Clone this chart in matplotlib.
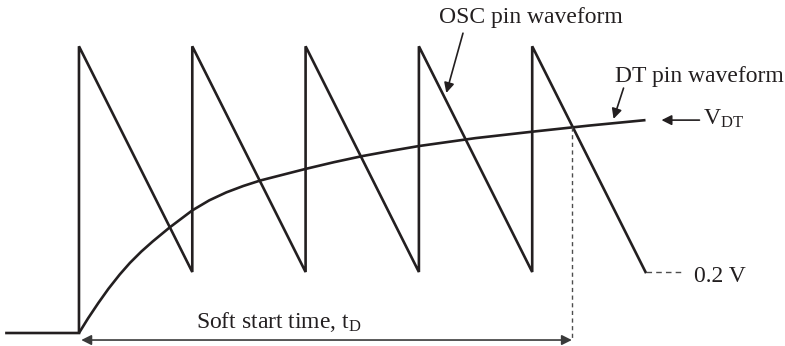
import numpy as np
import matplotlib
matplotlib.use('Agg')
import matplotlib.pyplot as plt

plt.rcParams['font.family'] = ['Liberation Serif', 'DejaVu Serif']
plt.rcParams['mathtext.fontset'] = 'custom'
plt.rcParams['mathtext.rm'] = 'Liberation Serif'
plt.rcParams['mathtext.it'] = 'Liberation Serif'

# time in oscillator periods, voltage in volts
osc_t = [-0.64, 0, 0, 1, 1, 2, 2, 3, 3, 4, 4, 5]
osc_v = [0, 0, 0.94, 0.2, 0.94, 0.2, 0.94, 0.2, 0.94, 0.2, 0.94, 0.2]

dt_t = [0, 0.08, 0.17, 0.26, 0.36, 0.45, 0.55, 0.65, 0.8, 1.0, 1.15, 1.3,
        1.45, 1.6, 1.8, 2.0, 2.25, 2.5, 2.75, 3.0, 3.5, 4.0, 4.5, 5.0]
dt_v = [0, 0.048, 0.098, 0.145, 0.192, 0.230, 0.267, 0.300, 0.346, 0.402,
        0.435, 0.461, 0.482, 0.500, 0.519, 0.538, 0.560, 0.580, 0.597, 0.613,
        0.639, 0.660, 0.680, 0.698]

t_d = 4.35        # end of soft start
v_low = 0.2
v_dt = dt_v[-1]

ink = '#231f20'
grey = '#4d4d4d'

fig = plt.figure(figsize=(7.85, 3.46), dpi=100)
ax = fig.add_axes([0, 0, 1, 1])
ax.set_xlim(-0.697, 6.231)
ax.set_ylim(-0.0426, 1.0918)
ax.axis('off')

ax.plot(osc_t, osc_v, color=ink, lw=1.9, solid_joinstyle='miter')
ax.plot(dt_t, dt_v, color=ink, lw=1.9, solid_capstyle='butt', solid_joinstyle='round')

# dashed markers
ax.plot([5, 5.33], [v_low, v_low], color=grey, lw=1, ls=(0, (4, 3)))
ax.plot([t_d, t_d], [np.interp(t_d, dt_t, dt_v), -0.023], color=grey, lw=1, ls=(0, (3, 2.5)))

# soft start arrow
ax.annotate('', xy=(0.02, -0.023), xytext=(t_d, -0.023),
            arrowprops=dict(arrowstyle='<|-|>', color='#3a3a3a', lw=1.2,
                            mutation_scale=15, shrinkA=0, shrinkB=0))
ax.text(1.768, 0.0164, 'Soft start time, t$_{\\rm D}$', fontsize=17,
        ha='center', va='baseline', color=ink)

# labels with pointers
ax.text(3.987, 1.015, 'OSC pin waveform', fontsize=17, ha='center', va='baseline', color=ink)
ax.annotate('', xy=(3.242, 0.787), xytext=(3.389, 0.983),
            arrowprops=dict(arrowstyle='-|>', color=ink, lw=1.2,
                            mutation_scale=15, shrinkA=0, shrinkB=0))

ax.text(5.472, 0.824, 'DT pin waveform', fontsize=17, ha='center', va='baseline', color=ink)
ax.annotate('', xy=(4.718, 0.702), xytext=(4.806, 0.803),
            arrowprops=dict(arrowstyle='-|>', color=ink, lw=1.2,
                            mutation_scale=15, shrinkA=0, shrinkB=0))

ax.annotate('', xy=(5.141, v_dt), xytext=(5.476, v_dt),
            arrowprops=dict(arrowstyle='-|>', color=ink, lw=1.2,
                            mutation_scale=15, shrinkA=0, shrinkB=0))
ax.text(5.503, 0.682, 'V$_{\\rm DT}$', fontsize=17, ha='left', va='baseline', color=ink)

ax.text(5.432, 0.168, '0.2 V', fontsize=17, ha='left', va='baseline', color=ink)

fig.savefig('out.png', dpi=100)
